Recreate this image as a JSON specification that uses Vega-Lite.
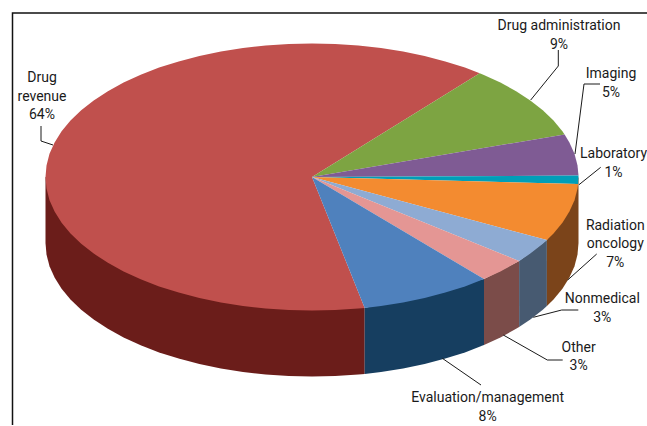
{
  "$schema": "https://vega.github.io/schema/vega-lite/v6.json",
  "width": 647,
  "height": 426,
  "padding": 0,
  "autosize": {"type": "fit", "contains": "padding"},
  "background": "white",
  "config": {"view": {"stroke": null}},
  "projection": {"type": "identity", "scale": 1, "translate": [0, 0]},
  "layer": [
    {
      "data": {"values": [
        {"type": "Feature", "properties": {"part": "Drug revenue side", "value": 64}, "geometry": {"type": "Polygon", "coordinates": [[[45.5,177],[45.5,243],[46.5,254.6],[49.5,266.2],[54.6,277.6],[61.6,288.7],[70.5,299.4],[81.2,309.8],[93.7,319.6],[107.9,328.8],[123.6,337.4],[140.7,345.3],[159.1,352.4],[178.7,358.6],[199.4,364],[220.9,368.4],[243,371.9],[265.7,374.5],[288.8,376],[312,376.5],[335.2,376],[358.3,374.5],[364.7,373.9],[364.7,307.9],[45.5,177]]]}},
        {"type": "Feature", "properties": {"part": "Evaluation/management side", "value": 8}, "geometry": {"type": "Polygon", "coordinates": [[[364.7,307.9],[364.7,373.9],[381,371.9],[403.1,368.4],[424.6,364],[445.3,358.6],[464.9,352.4],[483.3,345.3],[484,345],[484,279],[364.7,307.9]]]}},
        {"type": "Feature", "properties": {"part": "Other side", "value": 3}, "geometry": {"type": "Polygon", "coordinates": [[[484,279],[484,345],[500.4,337.4],[516.1,328.8],[519.1,327],[519.1,261],[484,279]]]}},
        {"type": "Feature", "properties": {"part": "Nonmedical side", "value": 3}, "geometry": {"type": "Polygon", "coordinates": [[[519.1,261],[519.1,327],[530.3,319.6],[542.8,309.8],[546.9,306.1],[546.9,240.1],[519.1,261]]]}},
        {"type": "Feature", "properties": {"part": "Radiation oncology side", "value": 7}, "geometry": {"type": "Polygon", "coordinates": [[[546.9,240.1],[546.9,306.1],[553.5,299.4],[562.4,288.7],[569.4,277.6],[574.5,266.2],[577.5,254.6],[578.5,243],[578.5,177],[546.9,240.1]]]}},

        {"type": "Feature", "properties": {"part": "Drug revenue", "value": 64}, "geometry": {"type": "Polygon", "coordinates": [[[312,177],[479.7,73.3],[464.9,67.6],[445.3,61.4],[424.6,56],[403.1,51.6],[381,48.1],[358.3,45.5],[335.2,44],[312,43.5],[288.8,44],[265.7,45.5],[243,48.1],[220.9,51.6],[199.4,56],[178.7,61.4],[159.1,67.6],[140.7,74.7],[123.6,82.6],[107.9,91.2],[93.7,100.4],[81.2,110.2],[70.5,120.6],[61.6,131.3],[54.6,142.4],[49.5,153.8],[46.5,165.4],[45.5,177],[46.5,188.6],[49.5,200.2],[54.6,211.6],[61.6,222.7],[70.5,233.4],[81.2,243.8],[93.7,253.6],[107.9,262.8],[123.6,271.4],[140.7,279.3],[159.1,286.4],[178.7,292.6],[199.4,298],[220.9,302.4],[243,305.9],[265.7,308.5],[288.8,310],[312,310.5],[335.2,310],[358.3,308.5],[364.7,307.9],[312,177]]]}},
        {"type": "Feature", "properties": {"part": "Drug administration", "value": 9}, "geometry": {"type": "Polygon", "coordinates": [[[312,177],[564.6,134.4],[562.4,131.3],[553.5,120.6],[542.8,110.2],[530.3,100.4],[516.1,91.2],[500.4,82.6],[483.3,74.7],[479.7,73.3],[312,177]]]}},
        {"type": "Feature", "properties": {"part": "Imaging", "value": 5}, "geometry": {"type": "Polygon", "coordinates": [[[312,177],[578.5,175.6],[577.5,165.4],[574.5,153.8],[569.4,142.4],[564.6,134.4],[312,177]]]}},
        {"type": "Feature", "properties": {"part": "Laboratory", "value": 1}, "geometry": {"type": "Polygon", "coordinates": [[[312,177],[578.1,184],[578.5,177],[578.5,175.6],[312,177]]]}},
        {"type": "Feature", "properties": {"part": "Radiation oncology", "value": 7}, "geometry": {"type": "Polygon", "coordinates": [[[312,177],[546.9,240.1],[553.5,233.4],[562.4,222.7],[569.4,211.6],[574.5,200.2],[577.5,188.6],[578.1,184],[312,177]]]}},
        {"type": "Feature", "properties": {"part": "Nonmedical", "value": 3}, "geometry": {"type": "Polygon", "coordinates": [[[312,177],[519.1,261],[530.3,253.6],[542.8,243.8],[546.9,240.1],[312,177]]]}},
        {"type": "Feature", "properties": {"part": "Other", "value": 3}, "geometry": {"type": "Polygon", "coordinates": [[[312,177],[484,279],[500.4,271.4],[516.1,262.8],[519.1,261],[312,177]]]}},
        {"type": "Feature", "properties": {"part": "Evaluation/management", "value": 8}, "geometry": {"type": "Polygon", "coordinates": [[[312,177],[364.7,307.9],[381,305.9],[403.1,302.4],[424.6,298],[445.3,292.6],[464.9,286.4],[483.3,279.3],[484,279],[312,177]]]}}
      ]},
      "mark": {"type": "geoshape"},
      "encoding": {
        "fill": {
          "field": "properties.part",
          "type": "nominal",
          "legend": null,
          "scale": {
            "domain": ["Drug revenue", "Drug administration", "Imaging", "Laboratory", "Radiation oncology", "Nonmedical", "Other", "Evaluation/management", "Drug revenue side", "Radiation oncology side", "Nonmedical side", "Other side", "Evaluation/management side"],
            "range": ["#C0504D", "#7DA442", "#7F5B94", "#009EB8", "#F38B30", "#8EABD3", "#E49694", "#4F81BD", "#6B1D1A", "#7B441A", "#475A71", "#7B4C49", "#163E60"]
          }
        }
      }
    },
    {
      "data": {"values": [
        {"type": "Feature", "properties": {"label": "Drug revenue"}, "geometry": {"type": "LineString", "coordinates": [[41,126],[41,141],[53,145]]}},
        {"type": "Feature", "properties": {"label": "Drug administration"}, "geometry": {"type": "LineString", "coordinates": [[558.3,50],[558.3,66],[530.7,100]]}},
        {"type": "Feature", "properties": {"label": "Imaging"}, "geometry": {"type": "LineString", "coordinates": [[600,84],[584,84],[575,154]]}},
        {"type": "Feature", "properties": {"label": "Laboratory"}, "geometry": {"type": "LineString", "coordinates": [[600.7,167.3],[579,184.7]]}},
        {"type": "Feature", "properties": {"label": "Radiation oncology"}, "geometry": {"type": "LineString", "coordinates": [[596.7,254],[567.7,280]]}},
        {"type": "Feature", "properties": {"label": "Nonmedical"}, "geometry": {"type": "LineString", "coordinates": [[578.3,310],[561.7,310],[533.3,317.3]]}},
        {"type": "Feature", "properties": {"label": "Other"}, "geometry": {"type": "LineString", "coordinates": [[562.7,360],[547.3,360],[503.3,335]]}},
        {"type": "Feature", "properties": {"label": "Evaluation/management"}, "geometry": {"type": "LineString", "coordinates": [[481,385],[442.3,358.3]]}}
      ]},
      "mark": {"type": "geoshape", "filled": false, "stroke": "#1a1a1a", "strokeWidth": 1}
    },
    {
      "data": {"values": [
        {"type": "Feature", "properties": {"label": "frame"}, "geometry": {"type": "LineString", "coordinates": [[12.5,425],[12.5,13],[647,13]]}}
      ]},
      "mark": {"type": "geoshape", "filled": false, "stroke": "#111111", "strokeWidth": 1.5}
    },
    {
      "data": {"values": [
        {"name": "Drug revenue", "share": "64%", "text": "Drug\nrevenue\n64%", "lon": 42, "lat": 78},
        {"name": "Drug administration", "share": "9%", "text": "Drug administration\n9%", "lon": 559, "lat": 26},
        {"name": "Imaging", "share": "5%", "text": "Imaging\n5%", "lon": 611, "lat": 74},
        {"name": "Laboratory", "share": "1%", "text": "Laboratory\n1%", "lon": 613.5, "lat": 154},
        {"name": "Radiation oncology", "share": "7%", "text": "Radiation\noncology\n7%", "lon": 615.3, "lat": 225.7},
        {"name": "Nonmedical", "share": "3%", "text": "Nonmedical\n3%", "lon": 602.3, "lat": 299},
        {"name": "Other", "share": "3%", "text": "Other\n3%", "lon": 578.6, "lat": 347.7},
        {"name": "Evaluation/management", "share": "8%", "text": "Evaluation/management\n8%", "lon": 487.6, "lat": 398.3}
      ]},
      "mark": {
        "type": "text",
        "font": "Roboto",
        "fontSize": 14,
        "color": "#1a1a1a",
        "align": "center",
        "baseline": "middle",
        "lineBreak": "\n",
        "lineHeight": 18.5
      },
      "encoding": {
        "longitude": {"field": "lon", "type": "quantitative"},
        "latitude": {"field": "lat", "type": "quantitative"},
        "text": {"field": "text", "type": "nominal"}
      }
    }
  ]
}
